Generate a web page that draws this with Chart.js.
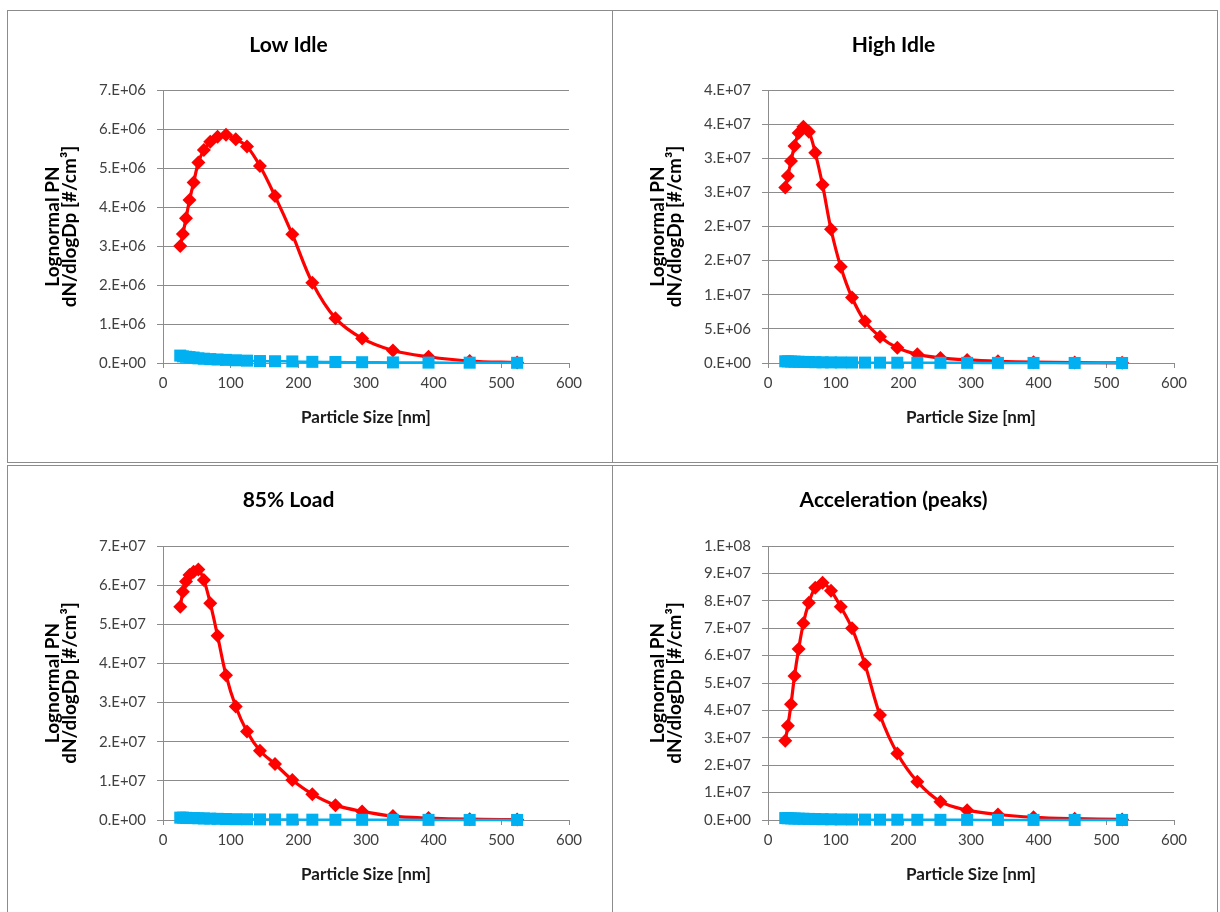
<!DOCTYPE html>
<html>
<head>
<meta charset="utf-8">
<script src="https://cdn.jsdelivr.net/npm/chart.js@4.4.0/dist/chart.umd.min.js"></script>
<style>
  body { margin: 0; background: #fff; width: 1220px; height: 912px; overflow: hidden; position: relative; }
  .panel { position: absolute; border: 1px solid #8c8c8c; background: #fff; width: 604px; }
  .top { height: 451px; top: 10px; }
  .bottom { height: 453px; top: 465px; }
  .left { left: 7px; }
  .right { left: 612px; }
</style>
</head>
<body>
<div class="panel top left"><canvas id="lowIdleChart"></canvas></div>
<div class="panel top right"><canvas id="highIdleChart"></canvas></div>
<div class="panel bottom left"><canvas id="loadChart"></canvas></div>
<div class="panel bottom right"><canvas id="accelChart"></canvas></div>
<script>
// particle size channels [nm]
const sizes = [25.5, 29.4, 34.0, 39.2, 45.3, 52.3, 60.4, 69.8, 80.6, 93.1, 107.5, 124.1, 143.3, 165.5, 191.1, 220.7, 254.8, 294.3, 339.8, 392.4, 453.2, 523.3];

const lowIdleRed = [3.00e6, 3.31e6, 3.71e6, 4.18e6, 4.63e6, 5.14e6, 5.46e6, 5.67e6, 5.80e6, 5.85e6, 5.74e6, 5.55e6, 5.05e6, 4.28e6, 3.30e6, 2.06e6, 1.15e6, 0.63e6, 0.32e6, 0.16e6, 0.05e6, 0.01e6];
const lowIdleBlue = [0.19e6, 0.17e6, 0.16e6, 0.15e6, 0.14e6, 0.12e6, 0.11e6, 0.10e6, 0.09e6, 0.08e6, 0.07e6, 0.06e6, 0.05e6, 0.045e6, 0.04e6, 0.03e6, 0.025e6, 0.02e6, 0.015e6, 0.01e6, 0.008e6, 0.005e6];

const highIdleRed = [25.7e6, 27.4e6, 29.6e6, 31.8e6, 33.7e6, 34.6e6, 33.9e6, 30.8e6, 26.1e6, 19.6e6, 14.1e6, 9.6e6, 6.1e6, 3.86e6, 2.24e6, 1.27e6, 0.75e6, 0.45e6, 0.25e6, 0.12e6, 0.06e6, 0.02e6];
const highIdleBlue = [0.25e6, 0.24e6, 0.22e6, 0.20e6, 0.18e6, 0.16e6, 0.14e6, 0.12e6, 0.10e6, 0.09e6, 0.08e6, 0.07e6, 0.06e6, 0.05e6, 0.04e6, 0.03e6, 0.025e6, 0.02e6, 0.015e6, 0.01e6, 0.008e6, 0.005e6];

const loadRed = [5.45e7, 5.83e7, 6.09e7, 6.26e7, 6.34e7, 6.40e7, 6.13e7, 5.54e7, 4.71e7, 3.70e7, 2.90e7, 2.26e7, 1.77e7, 1.43e7, 1.02e7, 0.66e7, 0.38e7, 0.22e7, 0.10e7, 0.05e7, 0.02e7, 0.01e7];
const loadBlue = [0.06e7, 0.06e7, 0.055e7, 0.05e7, 0.05e7, 0.045e7, 0.04e7, 0.035e7, 0.03e7, 0.025e7, 0.02e7, 0.018e7, 0.015e7, 0.012e7, 0.01e7, 0.008e7, 0.006e7, 0.005e7, 0.004e7, 0.003e7, 0.002e7, 0.001e7];

const accelRed = [2.89e7, 3.44e7, 4.22e7, 5.26e7, 6.24e7, 7.18e7, 7.93e7, 8.48e7, 8.66e7, 8.37e7, 7.78e7, 7.00e7, 5.68e7, 3.83e7, 2.43e7, 1.40e7, 0.67e7, 0.36e7, 0.20e7, 0.10e7, 0.05e7, 0.02e7];
const accelBlue = [0.07e7, 0.065e7, 0.06e7, 0.055e7, 0.05e7, 0.045e7, 0.04e7, 0.035e7, 0.03e7, 0.025e7, 0.02e7, 0.018e7, 0.015e7, 0.012e7, 0.01e7, 0.008e7, 0.006e7, 0.005e7, 0.004e7, 0.003e7, 0.002e7, 0.001e7];

// y tick labels as printed on each chart
const lowIdleTicks = ["0.E+00", "1.E+06", "2.E+06", "3.E+06", "4.E+06", "5.E+06", "6.E+06", "7.E+06"];
const highIdleTicks = ["0.E+00", "5.E+06", "1.E+07", "2.E+07", "2.E+07", "3.E+07", "3.E+07", "4.E+07", "4.E+07"];
const loadTicks = ["0.E+00", "1.E+07", "2.E+07", "3.E+07", "4.E+07", "5.E+07", "6.E+07", "7.E+07"];
const accelTicks = ["0.E+00", "1.E+07", "2.E+07", "3.E+07", "4.E+07", "5.E+07", "6.E+07", "7.E+07", "8.E+07", "9.E+07", "1.E+08"];

Chart.defaults.font.family = "Lato, 'Open Sans', sans-serif";
Chart.defaults.color = "#404040";

const gridColor = "#8c8c8c";

function points(ys) {
    return sizes.map((x, i) => ({ x: x, y: ys[i] }));
}

function makeChart(id, title, red, blue, yMax, yStep, yTicks, titleGap) {
    const ctx = document.getElementById(id).getContext("2d");
    return new Chart(ctx, {
        type: "line",
        data: {
            datasets: [{
                data: points(red),
                order: 1,
                clip: false,
                borderColor: "#ff0000",
                backgroundColor: "#ff0000",
                borderWidth: 3.2,
                pointStyle: "rectRot",
                pointRadius: 7,
                pointBorderWidth: 0,
                tension: 0.35,
                fill: false
            }, {
                data: points(blue),
                order: 0,
                clip: false,
                borderColor: "#00b0f0",
                backgroundColor: "#00b0f0",
                borderWidth: 2.5,
                pointStyle: "rect",
                pointRadius: 8.5,
                pointBorderWidth: 0,
                tension: 0.35,
                fill: false
            }]
        },
        options: {
            responsive: true,
            maintainAspectRatio: false,
            animation: false,
            layout: { padding: { left: 0, right: 43, top: 0, bottom: 0 } },
            plugins: {
                legend: { display: false },
                tooltip: { enabled: false },
                title: {
                    display: true,
                    text: title,
                    color: "#000",
                    font: { size: 21, weight: "bold" },
                    padding: { top: 21.4, bottom: titleGap }
                }
            },
            scales: {
                x: {
                    type: "linear",
                    min: 0,
                    max: 600,
                    ticks: { stepSize: 100, padding: 6, font: { size: 15 }, maxRotation: 0 },
                    grid: { drawOnChartArea: false, drawTicks: true, tickLength: 5, color: gridColor },
                    border: { color: gridColor },
                    title: {
                        display: true,
                        text: "Particle Size [nm]",
                        color: "#1a1a1a",
                        font: { size: 17, weight: "bold" },
                        padding: { top: 0, bottom: 33.8 }
                    },
                    afterFit: function(scale) { scale.height = 99; }
                },
                y: {
                    min: 0,
                    max: yMax,
                    ticks: {
                        stepSize: yStep,
                        padding: 11,
                        font: { size: 15 },
                        callback: function(value, index) { return yTicks[index]; }
                    },
                    grid: { color: gridColor, tickLength: 6 },
                    border: { color: gridColor },
                    title: {
                        display: true,
                        text: ["Lognormal PN", "dN/dlogDp [#/cm\u00b3]"],
                        color: "#000",
                        font: { size: 19, weight: "bold", lineHeight: 0.9 },
                        padding: { top: 36.5, bottom: 0 }
                    },
                    afterFit: function(scale) { scale.width = 155; }
                }
            }
        }
    });
}

document.addEventListener("DOMContentLoaded", function() {
    makeChart("lowIdleChart", "Low Idle", lowIdleRed, lowIdleBlue, 7e6, 1e6, lowIdleTicks, 32.4);
    makeChart("highIdleChart", "High Idle", highIdleRed, highIdleBlue, 4e7, 5e6, highIdleTicks, 32.4);
    makeChart("loadChart", "85% Load", loadRed, loadBlue, 7e7, 1e7, loadTicks, 33.4);
    makeChart("accelChart", "Acceleration (peaks)", accelRed, accelBlue, 1e8, 1e7, accelTicks, 33.4);
});
</script>
</body>
</html>
